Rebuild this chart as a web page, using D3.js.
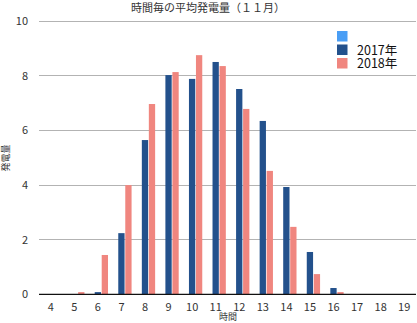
<!DOCTYPE html>
<html><head><meta charset="utf-8">
<script src="https://cdn.jsdelivr.net/npm/d3@7"></script>
<style>body{margin:0;background:#fff;}svg{display:block;font-family:"Noto Sans CJK JP","DejaVu Sans",sans-serif;}</style>
</head><body>
<svg id="c" width="417" height="323"></svg>
<script>
const hours = ["4","5","6","7","8","9","10","11","12","13","14","15","16","17","18","19"];
const seriesNames = ["", "2017年", "2018年"];
const seriesColors = ["#4a9ef5", "#23518c", "#f0867f"];
const valsBlank = [0,0,0,0,0,0,0,0,0,0,0,0,0,0,0,0];
const vals2017 = [0,0,0.08,2.24,5.65,8.03,7.89,8.51,7.52,6.35,3.93,1.55,0.23,0,0,0];
const vals2018 = [0,0.08,1.44,4.0,6.97,8.14,8.76,8.36,6.79,4.52,2.47,0.74,0.08,0,0,0];
const yTicks = [0,2,4,6,8,10];
const titleText = "時間毎の平均発電量（１１月）";
const xLabel = "時間", yLabel = "発電量";

const svg = d3.select("#c");
const m = {l:39, r:1, t:21.3, b:28.7};
const W = 417, H = 323;
const x = d3.scaleBand().domain(hours).range([m.l, W - m.r]).padding(0);
const y = d3.scaleLinear().domain([0,10]).range([H - m.b, m.t]);

// grid
svg.append("g").selectAll("line").data(yTicks.filter(d=>d>0)).join("line")
  .attr("x1", m.l).attr("x2", W - m.r)
  .attr("y1", d=>y(d)).attr("y2", d=>y(d))
  .attr("stroke", "#b3b3b3").attr("stroke-width", 1).attr("shape-rendering","crispEdges");

// y labels
svg.append("g").selectAll("text").data(yTicks).join("text")
  .attr("x", 28).attr("y", d=>y(d)).attr("dy","0.35em")
  .attr("text-anchor","end").attr("font-size", 11).attr("fill","#333")
  .text(d=>d);

const series = [valsBlank, vals2017, vals2018];
const bw = 6.3;
const offsets = [-10.2, -3.2, 3.8];
series.forEach((vals, si) => {
  svg.append("g").selectAll("rect").data(vals.map((v,i)=>({h:hours[i], v}))).join("rect")
    .attr("x", d => x(d.h) + x.bandwidth()/2 + offsets[si])
    .attr("width", bw)
    .attr("y", d => y(d.v))
    .attr("height", d => y(0) - y(d.v))
    .attr("fill", seriesColors[si]);
});

// x axis line
svg.append("line").attr("x1", m.l).attr("x2", W - m.r)
  .attr("y1", y(0)).attr("y2", y(0)).attr("stroke","#111").attr("stroke-width",1.3);

// x labels
svg.append("g").selectAll("text").data(hours).join("text")
  .attr("x", d => x(d) + x.bandwidth()/2).attr("y", y(0) + 13).attr("dy","0.35em")
  .attr("text-anchor","middle").attr("font-size", 11).attr("fill","#333")
  .text(d=>d);

// title
svg.append("text").attr("x", 208).attr("y", 12).attr("text-anchor","middle")
  .attr("font-size", 11).attr("fill","#333").text(titleText);

// axis titles
svg.append("text").attr("x", 228).attr("y", 320).attr("text-anchor","middle")
  .attr("font-size", 9).attr("fill","#333").text(xLabel);
svg.append("text").attr("transform","translate(9,158) rotate(-90)").attr("text-anchor","middle")
  .attr("font-size", 9).attr("fill","#333").text(yLabel);

// legend
const lg = svg.append("g");
seriesNames.forEach((n, i) => {
  lg.append("rect").attr("x", 337).attr("y", 31 + i*13.5).attr("width", 10.5).attr("height", 10.5)
    .attr("fill", seriesColors[i]);
  lg.append("text").attr("x", 357).attr("y", 31 + i*13.5 + 5.5).attr("dy","0.38em")
    .attr("font-size", 12.5).attr("fill","#111").text(n);
});
</script>
</body></html>
